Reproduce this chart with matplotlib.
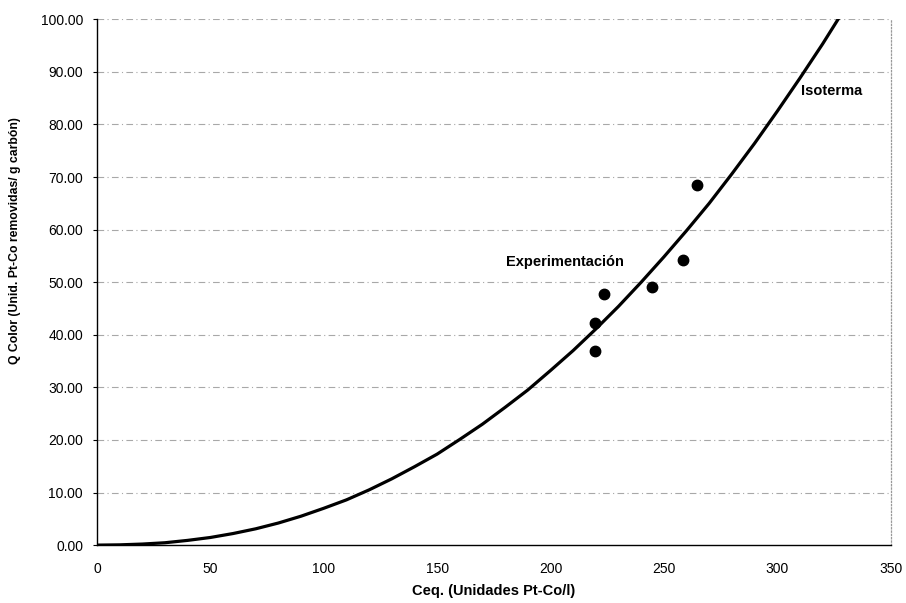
import numpy as np
import matplotlib.pyplot as plt

# Isotherm curve, read along x
ceq_curve = [0, 10, 20, 30, 40, 50, 60, 70, 80, 90, 100, 110, 120, 130, 140, 150, 160,
             170, 180, 190, 200, 210, 220, 230, 240, 250, 260, 270, 280, 290, 300, 310,
             320, 328]
q_curve = [0.0, 0.05, 0.2, 0.45, 0.9, 1.45, 2.2, 3.1, 4.2, 5.5, 7.0, 8.6, 10.5, 12.6,
           14.9, 17.3, 20.1, 23.0, 26.2, 29.5, 33.2, 37.0, 41.1, 45.4, 50.0, 54.8, 59.8,
           65.0, 70.6, 76.4, 82.5, 88.8, 95.3, 100.8]

# Experimental points
ceq_exp = [219.8, 219.8, 223.8, 244.6, 258.6, 264.6]
q_exp = [36.9, 42.2, 47.8, 49.0, 54.2, 68.4]

y_ticks = [0, 10, 20, 30, 40, 50, 60, 70, 80, 90, 100]
x_ticks = [0, 50, 100, 150, 200, 250, 300, 350]

plt.rcParams['font.family'] = ['Liberation Sans', 'DejaVu Sans']

fig = plt.figure(figsize=(9.06, 6.03), dpi=100)
ax = fig.add_axes([0.107, 0.096, 0.876, 0.872])

# dashed grey grid
for yt in y_ticks[1:]:
    ax.axhline(yt, color='#a8a8a8', lw=0.8, ls=(0, (6, 3, 1, 3)), zorder=0)

ax.plot(ceq_curve, q_curve, color='black', lw=2.3, solid_capstyle='round', zorder=2)
ax.plot(ceq_exp, q_exp, 'o', color='black', markersize=7.5, zorder=3)

ax.text(180.5, 53.9, 'Experimentación', fontsize=10.5, fontweight='bold', va='center')
ax.text(310.5, 86.3, 'Isoterma', fontsize=10.5, fontweight='bold', va='center')

ax.set_xlim(0, 350)
ax.set_ylim(0, 100)
ax.set_xticks(x_ticks)
ax.set_yticks(y_ticks)
ax.set_yticklabels(['%.2f' % v for v in y_ticks])
ax.tick_params(axis='x', length=0, labelsize=10, pad=12)
ax.tick_params(axis='y', length=3, width=0.8, direction='out', labelsize=10, pad=7)

for side in ['left', 'bottom']:
    ax.spines[side].set_color('black')
    ax.spines[side].set_linewidth(1.0)
ax.spines['right'].set_color('#999999')
ax.spines['right'].set_linestyle(':')
ax.spines['right'].set_linewidth(0.9)
ax.spines['top'].set_visible(False)

ax.set_xlabel('Ceq. (Unidades Pt-Co/l)', fontsize=10.5, fontweight='bold')
ax.xaxis.set_label_coords(0.5, -0.074)
ax.set_ylabel('Q Color (Unid. Pt-Co removidas/ g carbón)', fontsize=8.8, fontweight='bold')
ax.yaxis.set_label_coords(-0.096, 0.58)

fig.savefig('out.png', dpi=100)
